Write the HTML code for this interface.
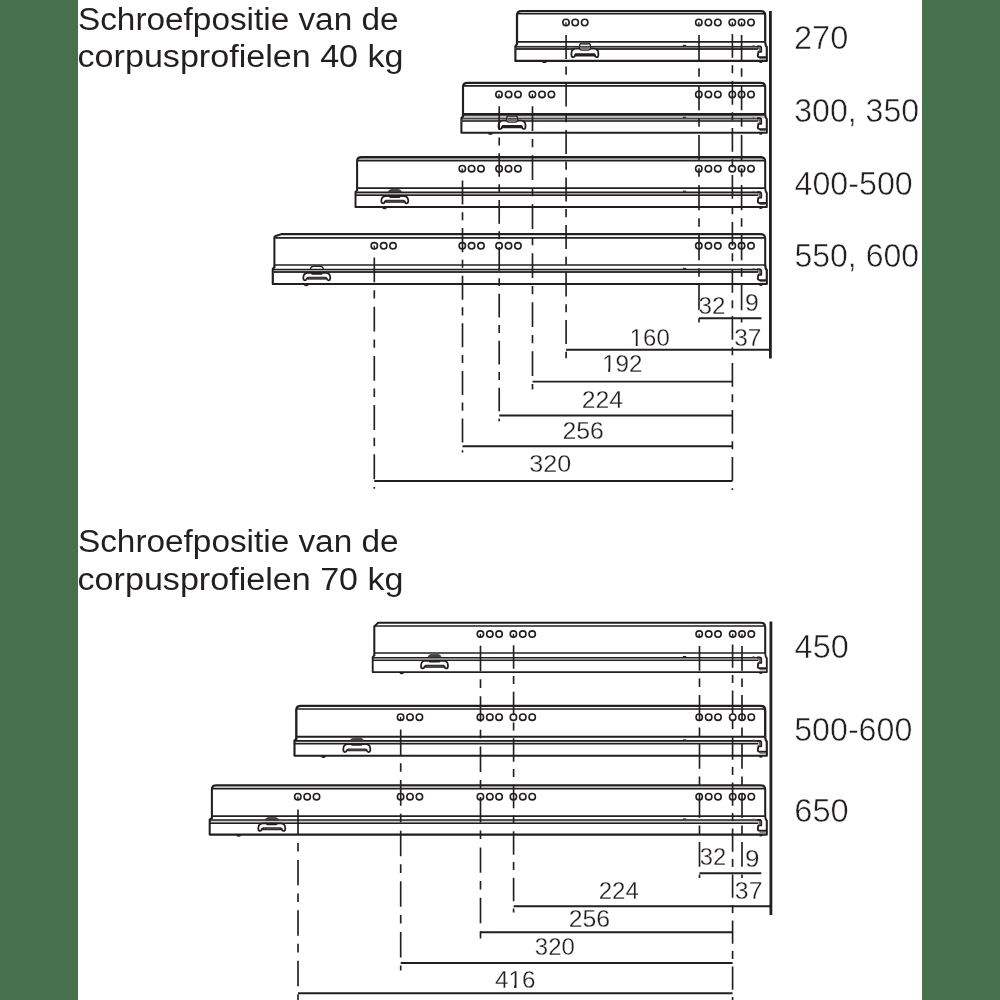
<!DOCTYPE html>
<html><head><meta charset="utf-8"><title>Schroefpositie</title>
<style>
html,body{margin:0;padding:0;background:#fff;}
body{width:1000px;height:1000px;overflow:hidden;position:relative;font-family:"Liberation Sans",sans-serif;}
.bar{position:absolute;top:0;height:1000px;background:#47704d;}
svg{position:absolute;left:0;top:0;will-change:transform;}
</style></head><body>
<div class="bar" style="left:0;width:77.8px"></div>
<div class="bar" style="left:922px;width:78px"></div>
<svg width="1000" height="1000" viewBox="0 0 1000 1000">
<rect x="515.40" y="46.40" width="244.10" height="2.50" fill="#77797a"/>
<path d="M517.00 44.85 V15.00 Q517.00 11.00 521.50 11.00 H760.70 Q765.20 11.00 765.20 15.50 V41.85" fill="none" stroke="#231f20" stroke-width="2.25" stroke-linejoin="round"/>
<path d="M517.80 13.85 H764.70" stroke="#231f20" stroke-width="1.5" fill="none"/>
<path d="M517.00 41.85 H765.20" stroke="#231f20" stroke-width="1.6" fill="none"/>
<path d="M517.20 43.85 L515.40 46.10 V60.90 H766.8 V47.00 L765.80 45.80 L765.20 41.85" fill="none" stroke="#231f20" stroke-width="2.15" stroke-linejoin="round"/>
<path d="M515.40 46.40 H760.8" stroke="#231f20" stroke-width="1.0" fill="none"/>
<path d="M515.40 48.90 H758.2" stroke="#3a3536" stroke-width="2.0" fill="none"/>
<path d="M757 46.40 H759.6 Q761.2 46.40 761.2 48.00 V51.80 H758.4 L757.8 55.40 Q757.8 57.20 760 57.20 H766" fill="none" stroke="#231f20" stroke-width="1.9" stroke-linejoin="round"/>
<path d="M759.6 47.40 V51.40" stroke="#6b6869" stroke-width="1.6" fill="none"/>
<path d="M759.5 58.60 H765.5" stroke="#6b6869" stroke-width="1.2" fill="none"/>
<ellipse cx="544.40" cy="61.90" rx="2.2" ry="1.2" fill="#231f20"/>
<ellipse cx="760.8" cy="61.90" rx="1.7" ry="1.0" fill="#231f20"/>
<path d="M682.8 45.40 H686.2" stroke="#231f20" stroke-width="1.1"/>
<path d="M752.6 45.50 H754.6" stroke="#6b6869" stroke-width="0.9"/>
<path d="M579.70 48.70 H575.70 Q571.90 48.90 571.50 52.70 L571.40 54.95 Q571.40 57.15 573.20 57.15 Q574.70 57.15 574.90 55.15 H594.90 Q595.10 57.15 596.60 57.15 Q598.40 57.15 598.40 54.95 L598.30 52.70 Q597.90 48.90 594.10 48.70 H590.20 Z" fill="#fff" stroke="#231f20" stroke-width="1.75" stroke-linejoin="round"/>
<rect x="574.60" y="53.30" width="20.8" height="3.3" rx="1.2" fill="#231f20"/>
<rect x="579.60" y="43.35" width="10.8" height="6.75" rx="2.3" ry="2.3" fill="#fff" stroke="#231f20" stroke-width="1.3"/>
<rect x="581.30" y="42.75" width="7.4" height="2.0" fill="#4a4748"/>
<path d="M580.30 46.70 H589.70 V48.30 Q589.70 49.60 588.30 49.60 H581.70 Q580.30 49.60 580.30 48.30 Z" fill="#6f6c6d"/>
<path d="M580.10 46.40 H589.90" stroke="#231f20" stroke-width="0.9"/>
<circle cx="566.00" cy="22.50" r="3.2" fill="#fff" stroke="#231f20" stroke-width="1.6"/>
<circle cx="575.20" cy="22.50" r="3.2" fill="#fff" stroke="#231f20" stroke-width="1.6"/>
<circle cx="584.70" cy="22.50" r="3.2" fill="#fff" stroke="#231f20" stroke-width="1.6"/>
<circle cx="698.80" cy="22.50" r="3.2" fill="#fff" stroke="#231f20" stroke-width="1.6"/>
<circle cx="708.40" cy="22.50" r="3.2" fill="#fff" stroke="#231f20" stroke-width="1.6"/>
<circle cx="717.80" cy="22.50" r="3.2" fill="#fff" stroke="#231f20" stroke-width="1.6"/>
<circle cx="732.30" cy="22.50" r="3.2" fill="#fff" stroke="#231f20" stroke-width="1.6"/>
<circle cx="741.60" cy="22.50" r="3.2" fill="#fff" stroke="#231f20" stroke-width="1.6"/>
<circle cx="751.00" cy="22.50" r="3.2" fill="#fff" stroke="#231f20" stroke-width="1.6"/>
<rect x="463.00" y="114.30" width="302.20" height="4.00" fill="#cbc9c8"/>
<rect x="461.40" y="118.30" width="298.10" height="2.60" fill="#9a9898"/>
<path d="M463.00 117.30 V86.85 Q463.00 82.85 467.50 82.85 H760.70 Q765.20 82.85 765.20 87.35 V114.30" fill="none" stroke="#231f20" stroke-width="2.15" stroke-linejoin="round"/>
<path d="M463.80 85.85 H764.70" stroke="#231f20" stroke-width="1.7" fill="none"/>
<path d="M463.00 114.30 H765.20" stroke="#231f20" stroke-width="2.8" fill="none"/>
<path d="M463.20 116.30 L461.40 118.00 V132.65 H766.8 V118.90 L765.80 117.70 L765.20 114.30" fill="none" stroke="#231f20" stroke-width="2.05" stroke-linejoin="round"/>
<path d="M461.40 118.30 H760.8" stroke="#231f20" stroke-width="0.9" fill="none"/>
<path d="M461.40 120.90 H758.2" stroke="#4a4848" stroke-width="2.0" fill="none"/>
<path d="M757 118.30 H759.6 Q761.2 118.30 761.2 119.90 V123.70 H758.4 L757.8 127.30 Q757.8 129.10 760 129.10 H766" fill="none" stroke="#231f20" stroke-width="1.9" stroke-linejoin="round"/>
<path d="M759.6 119.30 V123.30" stroke="#6b6869" stroke-width="1.6" fill="none"/>
<path d="M759.5 130.50 H765.5" stroke="#6b6869" stroke-width="1.2" fill="none"/>
<ellipse cx="490.40" cy="133.65" rx="2.2" ry="1.2" fill="#231f20"/>
<ellipse cx="760.8" cy="133.65" rx="1.7" ry="1.0" fill="#231f20"/>
<path d="M682.8 117.30 H686.2" stroke="#231f20" stroke-width="1.1"/>
<path d="M752.6 117.40 H754.6" stroke="#6b6869" stroke-width="0.9"/>
<path d="M506.80 120.70 H502.80 Q499.00 120.90 498.60 124.70 L498.50 126.70 Q498.50 128.90 500.30 128.90 Q501.80 128.90 502.00 126.90 H522.00 Q522.20 128.90 523.70 128.90 Q525.50 128.90 525.50 126.70 L525.40 124.70 Q525.00 120.90 521.20 120.70 H517.30 Z" fill="#fff" stroke="#231f20" stroke-width="1.75" stroke-linejoin="round"/>
<rect x="501.70" y="125.05" width="20.8" height="3.3" rx="1.2" fill="#231f20"/>
<rect x="506.70" y="115.80" width="10.8" height="6.30" rx="2.3" ry="2.3" fill="#fff" stroke="#231f20" stroke-width="1.3"/>
<rect x="508.40" y="115.20" width="7.4" height="2.0" fill="#4a4748"/>
<path d="M507.40 118.60 H516.80 V120.30 Q516.80 121.60 515.40 121.60 H508.80 Q507.40 121.60 507.40 120.30 Z" fill="#6f6c6d"/>
<path d="M507.20 118.30 H517.00" stroke="#231f20" stroke-width="0.9"/>
<circle cx="499.00" cy="94.40" r="3.2" fill="#fff" stroke="#231f20" stroke-width="1.6"/>
<circle cx="508.60" cy="94.40" r="3.2" fill="#fff" stroke="#231f20" stroke-width="1.6"/>
<circle cx="518.00" cy="94.40" r="3.2" fill="#fff" stroke="#231f20" stroke-width="1.6"/>
<circle cx="532.40" cy="94.40" r="3.2" fill="#fff" stroke="#231f20" stroke-width="1.6"/>
<circle cx="542.00" cy="94.40" r="3.2" fill="#fff" stroke="#231f20" stroke-width="1.6"/>
<circle cx="551.40" cy="94.40" r="3.2" fill="#fff" stroke="#231f20" stroke-width="1.6"/>
<circle cx="698.80" cy="94.40" r="3.2" fill="#fff" stroke="#231f20" stroke-width="1.6"/>
<circle cx="708.40" cy="94.40" r="3.2" fill="#fff" stroke="#231f20" stroke-width="1.6"/>
<circle cx="717.80" cy="94.40" r="3.2" fill="#fff" stroke="#231f20" stroke-width="1.6"/>
<circle cx="732.30" cy="94.40" r="3.2" fill="#fff" stroke="#231f20" stroke-width="1.6"/>
<circle cx="741.60" cy="94.40" r="3.2" fill="#fff" stroke="#231f20" stroke-width="1.6"/>
<circle cx="751.00" cy="94.40" r="3.2" fill="#fff" stroke="#231f20" stroke-width="1.6"/>
<rect x="357.10" y="157.10" width="408.10" height="3.60" fill="#b0aeae"/>
<rect x="355.50" y="192.20" width="404.00" height="3.00" fill="#aaa8a8"/>
<path d="M357.10 191.10 V161.10 Q357.10 157.10 361.60 157.10 H760.70 Q765.20 157.10 765.20 161.60 V188.10" fill="none" stroke="#231f20" stroke-width="2.05" stroke-linejoin="round"/>
<path d="M357.90 160.70 H764.70" stroke="#231f20" stroke-width="1.6" fill="none"/>
<path d="M357.10 188.10 H765.20" stroke="#231f20" stroke-width="1.7" fill="none"/>
<path d="M357.30 190.10 L355.50 191.90 V207.05 H766.8 V192.80 L765.80 191.60 L765.20 188.10" fill="none" stroke="#231f20" stroke-width="1.95" stroke-linejoin="round"/>
<path d="M355.50 192.20 H760.8" stroke="#231f20" stroke-width="1.5" fill="none"/>
<path d="M355.50 195.20 H758.2" stroke="#231f20" stroke-width="1.6" fill="none"/>
<path d="M757 192.20 H759.6 Q761.2 192.20 761.2 193.80 V197.60 H758.4 L757.8 201.20 Q757.8 203.00 760 203.00 H766" fill="none" stroke="#231f20" stroke-width="1.9" stroke-linejoin="round"/>
<path d="M759.6 193.20 V197.20" stroke="#6b6869" stroke-width="1.6" fill="none"/>
<path d="M759.5 204.40 H765.5" stroke="#6b6869" stroke-width="1.2" fill="none"/>
<ellipse cx="384.50" cy="208.05" rx="2.2" ry="1.2" fill="#231f20"/>
<ellipse cx="760.8" cy="208.05" rx="1.7" ry="1.0" fill="#231f20"/>
<path d="M682.8 191.20 H686.2" stroke="#231f20" stroke-width="1.1"/>
<path d="M752.6 191.30 H754.6" stroke="#6b6869" stroke-width="0.9"/>
<path d="M389.60 196.10 H385.60 Q381.80 196.30 381.40 200.10 L381.30 201.10 Q381.30 203.30 383.10 203.30 Q384.60 203.30 384.80 201.30 H404.80 Q405.00 203.30 406.50 203.30 Q408.30 203.30 408.30 201.10 L408.20 200.10 Q407.80 196.30 404.00 196.10 H400.10 Z" fill="#fff" stroke="#231f20" stroke-width="1.75" stroke-linejoin="round"/>
<rect x="389.20" y="195.60" width="11.2" height="2.3" rx="1.1" fill="#231f20"/>
<rect x="385.20" y="199.75" width="19.4" height="2.9" rx="0.8" fill="#262324"/>
<rect x="386.60" y="200.70" width="16.6" height="0.9" fill="#5c595a"/>
<path d="M388.20 192.20 Q389.00 189.50 391.20 189.50 H398.60 Q400.80 189.50 401.60 192.20 Z" fill="#454243" stroke="#231f20" stroke-width="0.6" stroke-linejoin="round"/>
<circle cx="462.30" cy="168.70" r="3.2" fill="#fff" stroke="#231f20" stroke-width="1.6"/>
<circle cx="471.60" cy="168.70" r="3.2" fill="#fff" stroke="#231f20" stroke-width="1.6"/>
<circle cx="481.00" cy="168.70" r="3.2" fill="#fff" stroke="#231f20" stroke-width="1.6"/>
<circle cx="499.10" cy="168.70" r="3.2" fill="#fff" stroke="#231f20" stroke-width="1.6"/>
<circle cx="508.50" cy="168.70" r="3.2" fill="#fff" stroke="#231f20" stroke-width="1.6"/>
<circle cx="517.90" cy="168.70" r="3.2" fill="#fff" stroke="#231f20" stroke-width="1.6"/>
<circle cx="698.80" cy="168.70" r="3.2" fill="#fff" stroke="#231f20" stroke-width="1.6"/>
<circle cx="708.40" cy="168.70" r="3.2" fill="#fff" stroke="#231f20" stroke-width="1.6"/>
<circle cx="717.80" cy="168.70" r="3.2" fill="#fff" stroke="#231f20" stroke-width="1.6"/>
<circle cx="732.30" cy="168.70" r="3.2" fill="#fff" stroke="#231f20" stroke-width="1.6"/>
<circle cx="741.60" cy="168.70" r="3.2" fill="#fff" stroke="#231f20" stroke-width="1.6"/>
<circle cx="751.00" cy="168.70" r="3.2" fill="#fff" stroke="#231f20" stroke-width="1.6"/>
<rect x="272.80" y="269.35" width="486.70" height="2.70" fill="#aaa8a8"/>
<path d="M274.40 268.00 V237.10 L275.60 236.10 L281.90 234.10 H760.70 Q765.20 234.10 765.20 238.60 V265.00" fill="none" stroke="#231f20" stroke-width="2.05" stroke-linejoin="round"/>
<path d="M275.20 237.95 H764.70" stroke="#231f20" stroke-width="1.7" fill="none"/>
<path d="M274.40 265.00 H765.20" stroke="#231f20" stroke-width="1.7" fill="none"/>
<path d="M274.60 267.00 L272.80 269.05 V284.00 H766.8 V269.95 L765.80 268.75 L765.20 265.00" fill="none" stroke="#231f20" stroke-width="2.15" stroke-linejoin="round"/>
<path d="M272.80 269.35 H760.8" stroke="#231f20" stroke-width="1.2" fill="none"/>
<path d="M272.80 272.05 H758.2" stroke="#363334" stroke-width="1.9" fill="none"/>
<path d="M757 269.35 H759.6 Q761.2 269.35 761.2 270.95 V274.75 H758.4 L757.8 278.35 Q757.8 280.15 760 280.15 H766" fill="none" stroke="#231f20" stroke-width="1.9" stroke-linejoin="round"/>
<path d="M759.6 270.35 V274.35" stroke="#6b6869" stroke-width="1.6" fill="none"/>
<path d="M759.5 281.55 H765.5" stroke="#6b6869" stroke-width="1.2" fill="none"/>
<ellipse cx="306.30" cy="285.00" rx="2.2" ry="1.2" fill="#231f20"/>
<ellipse cx="760.8" cy="285.00" rx="1.7" ry="1.0" fill="#231f20"/>
<path d="M682.8 268.35 H686.2" stroke="#231f20" stroke-width="1.1"/>
<path d="M752.6 268.45 H754.6" stroke="#6b6869" stroke-width="0.9"/>
<path d="M311.60 272.95 H307.60 Q303.80 273.15 303.40 276.95 L303.30 278.05 Q303.30 280.25 305.10 280.25 Q306.60 280.25 306.80 278.25 H326.80 Q327.00 280.25 328.50 280.25 Q330.30 280.25 330.30 278.05 L330.20 276.95 Q329.80 273.15 326.00 272.95 H322.10 Z" fill="#fff" stroke="#231f20" stroke-width="1.75" stroke-linejoin="round"/>
<rect x="311.20" y="272.45" width="11.2" height="2.3" rx="1.1" fill="#231f20"/>
<rect x="307.20" y="276.70" width="19.4" height="2.9" rx="0.8" fill="#262324"/>
<rect x="308.60" y="277.65" width="16.6" height="0.9" fill="#5c595a"/>
<path d="M310.20 269.35 Q311.00 266.40 313.20 266.40 H320.60 Q322.80 266.40 323.60 269.35 Z" fill="#fff" stroke="#231f20" stroke-width="1.1" stroke-linejoin="round"/>
<circle cx="374.30" cy="245.80" r="3.2" fill="#fff" stroke="#231f20" stroke-width="1.6"/>
<circle cx="383.70" cy="245.80" r="3.2" fill="#fff" stroke="#231f20" stroke-width="1.6"/>
<circle cx="393.00" cy="245.80" r="3.2" fill="#fff" stroke="#231f20" stroke-width="1.6"/>
<circle cx="462.30" cy="245.80" r="3.2" fill="#fff" stroke="#231f20" stroke-width="1.6"/>
<circle cx="471.60" cy="245.80" r="3.2" fill="#fff" stroke="#231f20" stroke-width="1.6"/>
<circle cx="481.00" cy="245.80" r="3.2" fill="#fff" stroke="#231f20" stroke-width="1.6"/>
<circle cx="499.10" cy="245.80" r="3.2" fill="#fff" stroke="#231f20" stroke-width="1.6"/>
<circle cx="508.50" cy="245.80" r="3.2" fill="#fff" stroke="#231f20" stroke-width="1.6"/>
<circle cx="517.90" cy="245.80" r="3.2" fill="#fff" stroke="#231f20" stroke-width="1.6"/>
<circle cx="698.80" cy="245.80" r="3.2" fill="#fff" stroke="#231f20" stroke-width="1.6"/>
<circle cx="708.40" cy="245.80" r="3.2" fill="#fff" stroke="#231f20" stroke-width="1.6"/>
<circle cx="717.80" cy="245.80" r="3.2" fill="#fff" stroke="#231f20" stroke-width="1.6"/>
<circle cx="732.30" cy="245.80" r="3.2" fill="#fff" stroke="#231f20" stroke-width="1.6"/>
<circle cx="741.60" cy="245.80" r="3.2" fill="#fff" stroke="#231f20" stroke-width="1.6"/>
<circle cx="751.00" cy="245.80" r="3.2" fill="#fff" stroke="#231f20" stroke-width="1.6"/>
<path d="M566.00 22.20 V25.90" stroke="#231f20" stroke-width="1.3"/>
<path d="M698.80 22.20 V25.90" stroke="#231f20" stroke-width="1.3"/>
<path d="M732.30 22.20 V25.90" stroke="#231f20" stroke-width="1.3"/>
<path d="M741.60 22.20 V25.90" stroke="#231f20" stroke-width="1.3"/>
<path d="M499.00 94.10 V97.80" stroke="#231f20" stroke-width="1.3"/>
<path d="M532.40 94.10 V97.80" stroke="#231f20" stroke-width="1.3"/>
<path d="M462.30 168.40 V172.10" stroke="#231f20" stroke-width="1.3"/>
<path d="M374.30 245.50 V249.20" stroke="#231f20" stroke-width="1.3"/>
<path d="M566.10 35.00 V358.30" stroke="#231f20" stroke-width="1.65" stroke-dasharray="23.99 7.60 8.08 7.84" stroke-dashoffset="0.00" fill="none"/>
<path d="M532.50 106.30 V389.50" stroke="#231f20" stroke-width="1.65" stroke-dasharray="24.75 7.84 8.33 8.08" stroke-dashoffset="0.00" fill="none"/>
<path d="M499.20 106.30 V421.30" stroke="#231f20" stroke-width="1.65" stroke-dasharray="23.68 7.50 7.97 7.74" stroke-dashoffset="0.00" fill="none"/>
<path d="M462.50 180.50 V452.60" stroke="#231f20" stroke-width="1.65" stroke-dasharray="24.04 7.62 8.09 7.85" stroke-dashoffset="0.00" fill="none"/>
<path d="M374.30 257.50 V488.80" stroke="#231f20" stroke-width="1.65" stroke-dasharray="24.85 7.87 8.36 8.12" stroke-dashoffset="0.00" fill="none"/>
<path d="M699.00 35.00 V322.50" stroke="#231f20" stroke-width="1.65" stroke-dasharray="25.25 8.00 8.50 8.25" stroke-dashoffset="0.00" fill="none"/>
<path d="M741.60 35.00 V322.50" stroke="#231f20" stroke-width="1.65" stroke-dasharray="25.25 8.00 8.50 8.25" stroke-dashoffset="0.00" fill="none"/>
<path d="M732.40 34.00 V490.00" stroke="#231f20" stroke-width="1.65" stroke-dasharray="23.73 7.52 7.99 7.76" stroke-dashoffset="0.00" fill="none"/>
<path d="M770.4 11 V358.5" stroke="#231f20" stroke-width="2.8"/>
<path d="M699.00 318.20 H761.50" stroke="#231f20" stroke-width="1.95" fill="none"/>
<path d="M566.10 349.80 H770.40" stroke="#231f20" stroke-width="1.95" fill="none"/>
<path d="M532.50 381.60 H732.40" stroke="#231f20" stroke-width="1.95" fill="none"/>
<path d="M499.20 415.40 H732.40" stroke="#231f20" stroke-width="1.95" fill="none"/>
<path d="M462.50 446.30 H732.40" stroke="#231f20" stroke-width="1.95" fill="none"/>
<path d="M374.30 481.00 H732.40" stroke="#231f20" stroke-width="1.95" fill="none"/>
<rect x="372.70" y="657.50" width="386.80" height="3.05" fill="#8a8888"/>
<path d="M374.30 656.10 V626.40 L375.50 625.40 L378.10 622.80 H760.70 Q765.20 622.80 765.20 627.30 V653.10" fill="none" stroke="#231f20" stroke-width="2.05" stroke-linejoin="round"/>
<path d="M375.10 626.00 H764.70" stroke="#231f20" stroke-width="1.5" fill="none"/>
<path d="M374.30 653.10 H765.20" stroke="#231f20" stroke-width="1.5" fill="none"/>
<path d="M374.50 655.10 L372.70 657.20 V672.10 H766.8 V658.10 L765.80 656.90 L765.20 653.10" fill="none" stroke="#231f20" stroke-width="1.85" stroke-linejoin="round"/>
<path d="M372.70 657.50 H760.8" stroke="#231f20" stroke-width="1.1" fill="none"/>
<path d="M372.70 660.55 H758.2" stroke="#231f20" stroke-width="1.0" fill="none"/>
<path d="M757 657.50 H759.6 Q761.2 657.50 761.2 659.10 V662.90 H758.4 L757.8 666.50 Q757.8 668.30 760 668.30 H766" fill="none" stroke="#231f20" stroke-width="1.9" stroke-linejoin="round"/>
<path d="M759.6 658.50 V662.50" stroke="#6b6869" stroke-width="1.6" fill="none"/>
<path d="M759.5 669.70 H765.5" stroke="#6b6869" stroke-width="1.2" fill="none"/>
<ellipse cx="401.70" cy="673.10" rx="2.2" ry="1.2" fill="#231f20"/>
<ellipse cx="760.8" cy="673.10" rx="1.7" ry="1.0" fill="#231f20"/>
<path d="M682.8 656.50 H686.2" stroke="#231f20" stroke-width="1.1"/>
<path d="M752.6 656.60 H754.6" stroke="#6b6869" stroke-width="0.9"/>
<path d="M429.30 660.75 H425.30 Q421.50 660.95 421.10 664.75 L421.00 666.15 Q421.00 668.35 422.80 668.35 Q424.30 668.35 424.50 666.35 H444.50 Q444.70 668.35 446.20 668.35 Q448.00 668.35 448.00 666.15 L447.90 664.75 Q447.50 660.95 443.70 660.75 H439.80 Z" fill="#fff" stroke="#231f20" stroke-width="1.75" stroke-linejoin="round"/>
<rect x="428.90" y="660.25" width="11.2" height="2.3" rx="1.1" fill="#231f20"/>
<rect x="424.90" y="664.80" width="19.4" height="2.9" rx="0.8" fill="#262324"/>
<rect x="426.30" y="665.75" width="16.6" height="0.9" fill="#5c595a"/>
<path d="M427.90 657.50 Q428.70 654.50 430.90 654.50 H438.30 Q440.50 654.50 441.30 657.50 Z" fill="#454243" stroke="#231f20" stroke-width="0.6" stroke-linejoin="round"/>
<circle cx="480.40" cy="634.10" r="3.2" fill="#fff" stroke="#231f20" stroke-width="1.6"/>
<circle cx="489.80" cy="634.10" r="3.2" fill="#fff" stroke="#231f20" stroke-width="1.6"/>
<circle cx="499.10" cy="634.10" r="3.2" fill="#fff" stroke="#231f20" stroke-width="1.6"/>
<circle cx="513.40" cy="634.10" r="3.2" fill="#fff" stroke="#231f20" stroke-width="1.6"/>
<circle cx="522.80" cy="634.10" r="3.2" fill="#fff" stroke="#231f20" stroke-width="1.6"/>
<circle cx="532.20" cy="634.10" r="3.2" fill="#fff" stroke="#231f20" stroke-width="1.6"/>
<circle cx="699.20" cy="634.10" r="3.2" fill="#fff" stroke="#231f20" stroke-width="1.6"/>
<circle cx="708.70" cy="634.10" r="3.2" fill="#fff" stroke="#231f20" stroke-width="1.6"/>
<circle cx="718.00" cy="634.10" r="3.2" fill="#fff" stroke="#231f20" stroke-width="1.6"/>
<circle cx="732.70" cy="634.10" r="3.2" fill="#fff" stroke="#231f20" stroke-width="1.6"/>
<circle cx="742.00" cy="634.10" r="3.2" fill="#fff" stroke="#231f20" stroke-width="1.6"/>
<circle cx="751.30" cy="634.10" r="3.2" fill="#fff" stroke="#231f20" stroke-width="1.6"/>
<rect x="294.50" y="740.90" width="465.00" height="2.95" fill="#cccaca"/>
<path d="M296.30 739.75 V709.90 Q296.30 705.90 300.80 705.90 H760.70 Q765.20 705.90 765.20 710.40 V736.75" fill="none" stroke="#231f20" stroke-width="2.35" stroke-linejoin="round"/>
<path d="M297.10 709.00 H764.70" stroke="#231f20" stroke-width="1.6" fill="none"/>
<path d="M296.30 736.75 H765.20" stroke="#231f20" stroke-width="1.8" fill="none"/>
<path d="M296.50 738.75 L294.50 740.60 V755.75 H766.8 V741.50 L765.80 740.30 L765.20 736.75" fill="none" stroke="#231f20" stroke-width="2.15" stroke-linejoin="round"/>
<path d="M294.50 740.90 H760.8" stroke="#231f20" stroke-width="1.9" fill="none"/>
<path d="M294.50 743.85 H758.2" stroke="#231f20" stroke-width="1.5" fill="none"/>
<path d="M757 740.90 H759.6 Q761.2 740.90 761.2 742.50 V746.30 H758.4 L757.8 749.90 Q757.8 751.70 760 751.70 H766" fill="none" stroke="#231f20" stroke-width="1.9" stroke-linejoin="round"/>
<path d="M759.6 741.90 V745.90" stroke="#6b6869" stroke-width="1.6" fill="none"/>
<path d="M759.5 753.10 H765.5" stroke="#6b6869" stroke-width="1.2" fill="none"/>
<ellipse cx="323.50" cy="756.75" rx="2.2" ry="1.2" fill="#231f20"/>
<ellipse cx="760.8" cy="756.75" rx="1.7" ry="1.0" fill="#231f20"/>
<path d="M682.8 739.90 H686.2" stroke="#231f20" stroke-width="1.1"/>
<path d="M752.6 740.00 H754.6" stroke="#6b6869" stroke-width="0.9"/>
<path d="M351.60 744.05 H347.60 Q343.80 744.25 343.40 748.05 L343.30 749.80 Q343.30 752.00 345.10 752.00 Q346.60 752.00 346.80 750.00 H366.80 Q367.00 752.00 368.50 752.00 Q370.30 752.00 370.30 749.80 L370.20 748.05 Q369.80 744.25 366.00 744.05 H362.10 Z" fill="#fff" stroke="#231f20" stroke-width="1.75" stroke-linejoin="round"/>
<rect x="351.20" y="743.55" width="11.2" height="2.3" rx="1.1" fill="#231f20"/>
<rect x="347.20" y="748.45" width="19.4" height="2.9" rx="0.8" fill="#262324"/>
<rect x="348.60" y="749.40" width="16.6" height="0.9" fill="#5c595a"/>
<path d="M350.20 740.90 Q351.00 738.15 353.20 738.15 H360.60 Q362.80 738.15 363.60 740.90 Z" fill="#454243" stroke="#231f20" stroke-width="0.6" stroke-linejoin="round"/>
<circle cx="400.60" cy="717.20" r="3.2" fill="#fff" stroke="#231f20" stroke-width="1.6"/>
<circle cx="410.00" cy="717.20" r="3.2" fill="#fff" stroke="#231f20" stroke-width="1.6"/>
<circle cx="419.40" cy="717.20" r="3.2" fill="#fff" stroke="#231f20" stroke-width="1.6"/>
<circle cx="480.40" cy="717.20" r="3.2" fill="#fff" stroke="#231f20" stroke-width="1.6"/>
<circle cx="489.80" cy="717.20" r="3.2" fill="#fff" stroke="#231f20" stroke-width="1.6"/>
<circle cx="499.10" cy="717.20" r="3.2" fill="#fff" stroke="#231f20" stroke-width="1.6"/>
<circle cx="513.40" cy="717.20" r="3.2" fill="#fff" stroke="#231f20" stroke-width="1.6"/>
<circle cx="522.80" cy="717.20" r="3.2" fill="#fff" stroke="#231f20" stroke-width="1.6"/>
<circle cx="532.20" cy="717.20" r="3.2" fill="#fff" stroke="#231f20" stroke-width="1.6"/>
<circle cx="699.20" cy="717.20" r="3.2" fill="#fff" stroke="#231f20" stroke-width="1.6"/>
<circle cx="708.70" cy="717.20" r="3.2" fill="#fff" stroke="#231f20" stroke-width="1.6"/>
<circle cx="718.00" cy="717.20" r="3.2" fill="#fff" stroke="#231f20" stroke-width="1.6"/>
<circle cx="732.70" cy="717.20" r="3.2" fill="#fff" stroke="#231f20" stroke-width="1.6"/>
<circle cx="742.00" cy="717.20" r="3.2" fill="#fff" stroke="#231f20" stroke-width="1.6"/>
<circle cx="751.30" cy="717.20" r="3.2" fill="#fff" stroke="#231f20" stroke-width="1.6"/>
<rect x="211.90" y="785.20" width="553.30" height="3.60" fill="#c4c2c2"/>
<rect x="209.70" y="820.00" width="549.80" height="3.25" fill="#cfcdcd"/>
<path d="M211.90 819.10 V789.20 Q211.90 785.20 216.40 785.20 H760.70 Q765.20 785.20 765.20 789.70 V816.10" fill="none" stroke="#231f20" stroke-width="2.05" stroke-linejoin="round"/>
<path d="M212.70 788.80 H764.70" stroke="#231f20" stroke-width="1.6" fill="none"/>
<path d="M211.90 816.10 H765.20" stroke="#231f20" stroke-width="1.6" fill="none"/>
<path d="M212.10 818.10 L209.70 819.70 V834.60 H766.8 V820.60 L765.80 819.40 L765.20 816.10" fill="none" stroke="#231f20" stroke-width="2.05" stroke-linejoin="round"/>
<path d="M209.70 820.00 H760.8" stroke="#231f20" stroke-width="1.6" fill="none"/>
<path d="M209.70 823.25 H758.2" stroke="#231f20" stroke-width="1.6" fill="none"/>
<path d="M757 820.00 H759.6 Q761.2 820.00 761.2 821.60 V825.40 H758.4 L757.8 829.00 Q757.8 830.80 760 830.80 H766" fill="none" stroke="#231f20" stroke-width="1.9" stroke-linejoin="round"/>
<path d="M759.6 821.00 V825.00" stroke="#6b6869" stroke-width="1.6" fill="none"/>
<path d="M759.5 832.20 H765.5" stroke="#6b6869" stroke-width="1.2" fill="none"/>
<ellipse cx="238.70" cy="835.60" rx="2.2" ry="1.2" fill="#231f20"/>
<ellipse cx="760.8" cy="835.60" rx="1.7" ry="1.0" fill="#231f20"/>
<path d="M682.8 819.00 H686.2" stroke="#231f20" stroke-width="1.1"/>
<path d="M752.6 819.10 H754.6" stroke="#6b6869" stroke-width="0.9"/>
<path d="M266.60 823.45 H262.60 Q258.80 823.65 258.40 827.45 L258.30 828.65 Q258.30 830.85 260.10 830.85 Q261.60 830.85 261.80 828.85 H281.80 Q282.00 830.85 283.50 830.85 Q285.30 830.85 285.30 828.65 L285.20 827.45 Q284.80 823.65 281.00 823.45 H277.10 Z" fill="#fff" stroke="#231f20" stroke-width="1.75" stroke-linejoin="round"/>
<rect x="266.20" y="822.95" width="11.2" height="2.3" rx="1.1" fill="#231f20"/>
<rect x="262.20" y="827.30" width="19.4" height="2.9" rx="0.8" fill="#262324"/>
<rect x="263.60" y="828.25" width="16.6" height="0.9" fill="#5c595a"/>
<path d="M265.20 820.00 Q266.00 817.50 268.20 817.50 H275.60 Q277.80 817.50 278.60 820.00 Z" fill="#454243" stroke="#231f20" stroke-width="0.6" stroke-linejoin="round"/>
<circle cx="297.80" cy="796.70" r="3.2" fill="#fff" stroke="#231f20" stroke-width="1.6"/>
<circle cx="307.20" cy="796.70" r="3.2" fill="#fff" stroke="#231f20" stroke-width="1.6"/>
<circle cx="316.50" cy="796.70" r="3.2" fill="#fff" stroke="#231f20" stroke-width="1.6"/>
<circle cx="400.60" cy="796.70" r="3.2" fill="#fff" stroke="#231f20" stroke-width="1.6"/>
<circle cx="410.00" cy="796.70" r="3.2" fill="#fff" stroke="#231f20" stroke-width="1.6"/>
<circle cx="419.40" cy="796.70" r="3.2" fill="#fff" stroke="#231f20" stroke-width="1.6"/>
<circle cx="480.40" cy="796.70" r="3.2" fill="#fff" stroke="#231f20" stroke-width="1.6"/>
<circle cx="489.80" cy="796.70" r="3.2" fill="#fff" stroke="#231f20" stroke-width="1.6"/>
<circle cx="499.10" cy="796.70" r="3.2" fill="#fff" stroke="#231f20" stroke-width="1.6"/>
<circle cx="513.40" cy="796.70" r="3.2" fill="#fff" stroke="#231f20" stroke-width="1.6"/>
<circle cx="522.80" cy="796.70" r="3.2" fill="#fff" stroke="#231f20" stroke-width="1.6"/>
<circle cx="532.20" cy="796.70" r="3.2" fill="#fff" stroke="#231f20" stroke-width="1.6"/>
<circle cx="699.20" cy="796.70" r="3.2" fill="#fff" stroke="#231f20" stroke-width="1.6"/>
<circle cx="708.70" cy="796.70" r="3.2" fill="#fff" stroke="#231f20" stroke-width="1.6"/>
<circle cx="718.00" cy="796.70" r="3.2" fill="#fff" stroke="#231f20" stroke-width="1.6"/>
<circle cx="732.70" cy="796.70" r="3.2" fill="#fff" stroke="#231f20" stroke-width="1.6"/>
<circle cx="742.00" cy="796.70" r="3.2" fill="#fff" stroke="#231f20" stroke-width="1.6"/>
<circle cx="751.30" cy="796.70" r="3.2" fill="#fff" stroke="#231f20" stroke-width="1.6"/>
<path d="M480.40 633.80 V637.50" stroke="#231f20" stroke-width="1.3"/>
<path d="M513.40 633.80 V637.50" stroke="#231f20" stroke-width="1.3"/>
<path d="M699.20 633.80 V637.50" stroke="#231f20" stroke-width="1.3"/>
<path d="M732.70 633.80 V637.50" stroke="#231f20" stroke-width="1.3"/>
<path d="M742.00 633.80 V637.50" stroke="#231f20" stroke-width="1.3"/>
<path d="M400.60 716.90 V720.60" stroke="#231f20" stroke-width="1.3"/>
<path d="M297.80 796.40 V800.10" stroke="#231f20" stroke-width="1.3"/>
<path d="M513.60 645.20 V912.40" stroke="#231f20" stroke-width="1.65" stroke-dasharray="23.48 7.44 7.91 7.67" stroke-dashoffset="0.00" fill="none"/>
<path d="M480.50 645.80 V938.50" stroke="#231f20" stroke-width="1.65" stroke-dasharray="25.45 8.06 8.57 8.32" stroke-dashoffset="0.00" fill="none"/>
<path d="M400.70 729.50 V970.60" stroke="#231f20" stroke-width="1.65" stroke-dasharray="25.55 8.10 8.60 8.35" stroke-dashoffset="0.00" fill="none"/>
<path d="M298.00 809.50 V1001.00" stroke="#231f20" stroke-width="1.65" stroke-dasharray="25.45 8.06 8.57 8.32" stroke-dashoffset="0.00" fill="none"/>
<path d="M699.50 646.00 V878.00" stroke="#231f20" stroke-width="1.65" stroke-dasharray="24.75 7.84 8.33 8.08" stroke-dashoffset="0.00" fill="none"/>
<path d="M742.00 646.00 V878.00" stroke="#231f20" stroke-width="1.65" stroke-dasharray="24.75 7.84 8.33 8.08" stroke-dashoffset="0.00" fill="none"/>
<path d="M732.60 644.50 V1001.00" stroke="#231f20" stroke-width="1.65" stroke-dasharray="23.23 7.36 7.82 7.59" stroke-dashoffset="0.00" fill="none"/>
<path d="M770.9 621.6 V915" stroke="#231f20" stroke-width="2.8"/>
<path d="M699.50 873.30 H761.30" stroke="#231f20" stroke-width="1.95" fill="none"/>
<path d="M513.60 906.30 H770.90" stroke="#231f20" stroke-width="1.95" fill="none"/>
<path d="M480.50 932.20 H732.60" stroke="#231f20" stroke-width="1.95" fill="none"/>
<path d="M400.70 962.90 H732.60" stroke="#231f20" stroke-width="1.95" fill="none"/>
<path d="M298.00 993.30 H732.60" stroke="#231f20" stroke-width="1.95" fill="none"/>
<g font-family="Liberation Sans, sans-serif">
<text x="77.97" y="29.80" font-size="30.6" textLength="320.57" lengthAdjust="spacingAndGlyphs" fill="#231f20" stroke="#fff" stroke-width="0">Schroefpositie van de</text>
<text x="77.58" y="67.30" font-size="30.6" textLength="325.98" lengthAdjust="spacingAndGlyphs" fill="#231f20" stroke="#fff" stroke-width="0">corpusprofielen 40 kg</text>
<text x="77.97" y="552.00" font-size="30.6" textLength="320.57" lengthAdjust="spacingAndGlyphs" fill="#231f20" stroke="#fff" stroke-width="0">Schroefpositie van de</text>
<text x="77.58" y="589.70" font-size="30.6" textLength="325.98" lengthAdjust="spacingAndGlyphs" fill="#231f20" stroke="#fff" stroke-width="0">corpusprofielen 70 kg</text>
<text x="793.91" y="48.90" font-size="32.6" textLength="54.42" lengthAdjust="spacingAndGlyphs" fill="#231f20" stroke="#fff" stroke-width="0.5">270</text>
<text x="794.21" y="121.90" font-size="32.6" textLength="124.92" lengthAdjust="spacingAndGlyphs" fill="#231f20" stroke="#fff" stroke-width="0.5">300, 350</text>
<text x="794.51" y="194.70" font-size="32.6" textLength="118.22" lengthAdjust="spacingAndGlyphs" fill="#231f20" stroke="#fff" stroke-width="0.5">400-500</text>
<text x="794.41" y="267.40" font-size="32.6" textLength="124.72" lengthAdjust="spacingAndGlyphs" fill="#231f20" stroke="#fff" stroke-width="0.5">550, 600</text>
<text x="794.61" y="658.00" font-size="32.6" textLength="54.12" lengthAdjust="spacingAndGlyphs" fill="#231f20" stroke="#fff" stroke-width="0.5">450</text>
<text x="794.21" y="740.70" font-size="32.6" textLength="118.12" lengthAdjust="spacingAndGlyphs" fill="#231f20" stroke="#fff" stroke-width="0.5">500-600</text>
<text x="794.21" y="821.50" font-size="32.6" textLength="54.52" lengthAdjust="spacingAndGlyphs" fill="#231f20" stroke="#fff" stroke-width="0.5">650</text>
<text x="698.46" y="313.80" font-size="24.4" textLength="26.96" lengthAdjust="spacingAndGlyphs" fill="#231f20" stroke="#fff" stroke-width="0.26">32</text>
<text x="745.06" y="311.00" font-size="24.4" textLength="13.76" lengthAdjust="spacingAndGlyphs" fill="#231f20" stroke="#fff" stroke-width="0.26">9</text>
<text x="734.26" y="346.00" font-size="24.4" textLength="27.16" lengthAdjust="spacingAndGlyphs" fill="#231f20" stroke="#fff" stroke-width="0.26">37</text>
<text x="629.76" y="346.00" font-size="24.4" textLength="39.96" lengthAdjust="spacingAndGlyphs" fill="#231f20" stroke="#fff" stroke-width="0.26">160</text>
<text x="602.16" y="371.50" font-size="24.4" textLength="40.36" lengthAdjust="spacingAndGlyphs" fill="#231f20" stroke="#fff" stroke-width="0.26">192</text>
<text x="581.66" y="408.00" font-size="24.4" textLength="41.36" lengthAdjust="spacingAndGlyphs" fill="#231f20" stroke="#fff" stroke-width="0.26">224</text>
<text x="562.46" y="438.80" font-size="24.4" textLength="41.36" lengthAdjust="spacingAndGlyphs" fill="#231f20" stroke="#fff" stroke-width="0.26">256</text>
<text x="529.26" y="471.80" font-size="24.4" textLength="41.96" lengthAdjust="spacingAndGlyphs" fill="#231f20" stroke="#fff" stroke-width="0.26">320</text>
<text x="699.86" y="865.20" font-size="24.4" textLength="26.36" lengthAdjust="spacingAndGlyphs" fill="#231f20" stroke="#fff" stroke-width="0.26">32</text>
<text x="744.96" y="867.00" font-size="24.4" textLength="14.46" lengthAdjust="spacingAndGlyphs" fill="#231f20" stroke="#fff" stroke-width="0.26">9</text>
<text x="734.86" y="898.80" font-size="24.4" textLength="27.56" lengthAdjust="spacingAndGlyphs" fill="#231f20" stroke="#fff" stroke-width="0.26">37</text>
<text x="598.66" y="898.80" font-size="24.4" textLength="40.16" lengthAdjust="spacingAndGlyphs" fill="#231f20" stroke="#fff" stroke-width="0.26">224</text>
<text x="568.66" y="926.80" font-size="24.4" textLength="41.36" lengthAdjust="spacingAndGlyphs" fill="#231f20" stroke="#fff" stroke-width="0.26">256</text>
<text x="534.86" y="954.50" font-size="24.4" textLength="39.96" lengthAdjust="spacingAndGlyphs" fill="#231f20" stroke="#fff" stroke-width="0.26">320</text>
<text x="495.03" y="988.00" font-size="24.4" textLength="40.39" lengthAdjust="spacingAndGlyphs" fill="#231f20" stroke="#fff" stroke-width="0.26">416</text>
<rect x="630.40" y="343.40" width="5.35" height="3.4" fill="#fff"/>
<rect x="637.55" y="343.40" width="5.05" height="3.4" fill="#fff"/>
<rect x="635.90" y="343.00" width="1.50" height="3.0" fill="#231f20"/>
<rect x="603.40" y="369.00" width="4.90" height="3.4" fill="#fff"/>
<rect x="610.20" y="369.00" width="4.70" height="3.4" fill="#fff"/>
<rect x="608.45" y="368.60" width="1.60" height="3.0" fill="#231f20"/>
<rect x="509.40" y="985.40" width="4.80" height="3.4" fill="#fff"/>
<rect x="516.40" y="985.40" width="4.50" height="3.4" fill="#fff"/>
<rect x="514.35" y="985.00" width="1.90" height="3.0" fill="#231f20"/>
</g>
</svg>
</body></html>
